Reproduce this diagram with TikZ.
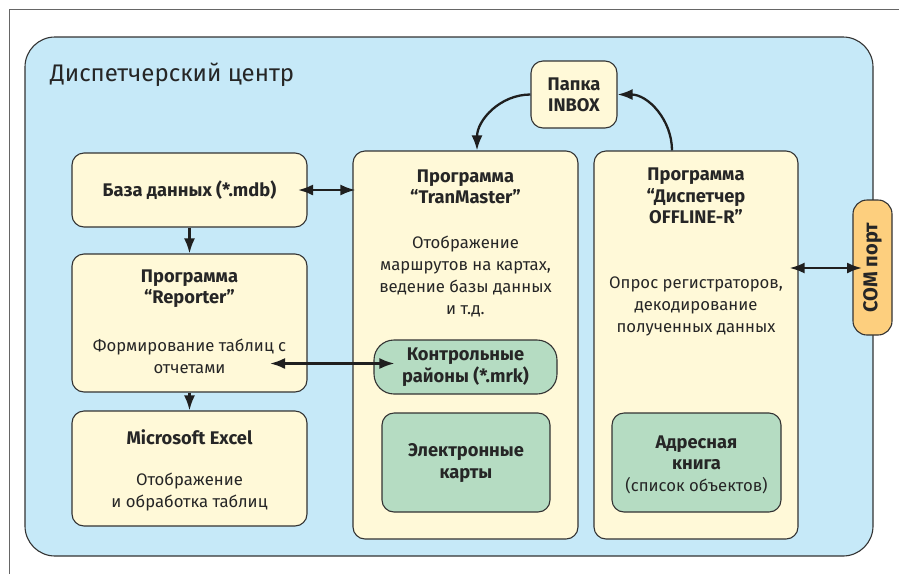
\documentclass[tikz,border=0pt]{standalone}
\usepackage{fontspec}
\setmainfont{Fira Sans}
\usetikzlibrary{arrows.meta,calc}
\definecolor{bgblue}{HTML}{C6E9F8}
\definecolor{boxyel}{HTML}{FFF9D8}
\definecolor{boxgrn}{HTML}{B5DCC2}
\definecolor{boxorg}{HTML}{FDCF7E}
\definecolor{linegray}{HTML}{333333}
\tikzset{
  box/.style={draw=linegray, line width=1.1pt, rounded corners=12pt, fill=boxyel, inner sep=0pt},
  gbox/.style={box, fill=boxgrn},
  lbl/.style={align=center, font=\fontsize{16.7}{22}\selectfont, text=black!85, inner sep=0pt},
  blbl/.style={lbl, font=\fontsize{18.3}{21.5}\selectfont\bfseries},
  tip/.tip={Latex[length=15pt,width=11pt]},
  arr/.style={line width=2.3pt, draw=black!88, -tip},
  darr/.style={line width=2.3pt, draw=black!88, tip-tip},
}
\begin{document}
\begin{tikzpicture}[x=1pt,y=-1pt]
\useasboundingbox (0,0) rectangle (899,574);
\fill[white] (0,0) rectangle (899,574);
\draw[gray!80!black, line width=1pt] (9.5,574) -- (9.5,9.5) -- (899,9.5);
% main area
\node[draw=linegray, line width=1.1pt, fill=bgblue, rounded corners=30pt, minimum width=848pt, minimum height=519pt] (main) at (449,296.5) {};
\node[anchor=west, font=\fontsize{24}{27}\selectfont, text=black!85, inner sep=0pt] (title) at (50,75) {Диспетчерский центр};
% boxes
\node[box, minimum width=235pt, minimum height=74pt] (db) at (189.5,190) {};
\node[box, minimum width=235pt, minimum height=138pt] (rep) at (189.5,323) {};
\node[box, minimum width=235pt, minimum height=115pt] (exc) at (189.5,468.5) {};
\node[box, minimum width=225pt, minimum height=388pt] (tm) at (465.5,345) {};
\node[box, minimum width=204pt, minimum height=388pt] (dp) at (696,345) {};
\node[gbox, rounded corners=20pt, minimum width=183pt, minimum height=54pt] (kr) at (465.5,367) {};
\node[gbox, minimum width=168pt, minimum height=99pt] (ek) at (466,462.5) {};
\node[gbox, minimum width=169pt, minimum height=99pt] (ab) at (696.5,462.5) {};
\node[box, minimum width=86pt, minimum height=67pt] (inbox) at (574,94.5) {};
\node[box, fill=boxorg, rounded corners=14pt, minimum width=39pt, minimum height=135pt] (com) at (872.5,267.5) {};
% texts
\node[blbl] (dbt) at (189.5,190) {База данных (*.mdb)};
\node[blbl] (rept) at (189.5,288.5) {Программа\\“Reporter”};
\node[lbl] (repd) at (189.5,356) {Формирование таблиц с\\отчетами};
\node[blbl] (exct) at (189.5,437) {Microsoft Excel};
\node[lbl] (excd) at (189.5,491.5) {Отображение\\и обработка таблиц};
\node[blbl] (tmt) at (465.5,187) {Программа\\“TranMaster”};
\node[lbl] (tmd) at (465.5,276) {Отображение\\маршрутов на картах,\\ведение базы данных\\и т.д.};
\node[blbl] (krt) at (465.5,367) {Контрольные\\районы (*.mrk)};
\node[blbl] (ekt) at (466,463) {Электронные\\карты};
\node[blbl] (dpt) at (696,196) {Программа\\“Диспетчер\\OFFLINE-R”};
\node[lbl] (dpd) at (696,306) {Опрос регистраторов,\\декодирование\\полученных данных};
\node[blbl] (abt) at (696.5,453) {Адресная\\книга};
\node[lbl] (abd) at (696.5,486) {(список объектов)};
\node[blbl] (inboxt) at (574,95) {Папка\\INBOX};
\node[blbl, font=\fontsize{20}{22}\selectfont\bfseries, rotate=90] (comt) at (872.5,267.5) {COM порт};
% connectors
\coordinate (repin) at (270,363.5);
\coordinate (comin) at (862,268);
\coordinate (dbin) at (298,190);
\draw[darr] (dbin) -- ($(dbin -| tm.west)+(3,0)$);
\draw[arr] (db.south) -- (rep.north);
\draw[arr] (rep.south) -- (exc.north);
\draw[darr] (repin) -- (repin -| kr.west) -- ++(21,0);
\draw[arr] (inbox.west) to[out=180, in=90] (tm.north -| 477,0);
\draw[arr] (dp.north -| 672,0) to[out=90, in=0] (inbox.east);
\draw[darr] (dp.east |- comin) ++(-9,0) -- (comin);
\end{tikzpicture}
\end{document}
